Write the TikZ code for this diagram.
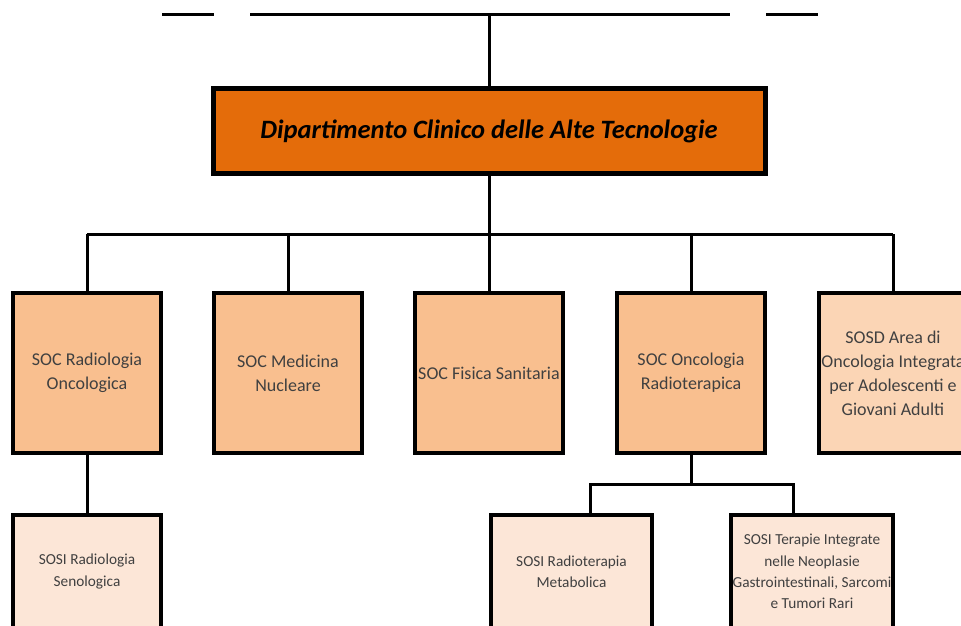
\documentclass[tikz,border=0pt]{standalone}
\usepackage{fontspec}
\setmainfont{Carlito}
\usetikzlibrary{positioning}

\definecolor{deptfill}{HTML}{E46C0A}
\definecolor{socfill}{HTML}{F9BF8F}
\definecolor{sosdfill}{HTML}{FBD5B5}
\definecolor{sosifill}{HTML}{FCE6D7}
\definecolor{boxtext}{HTML}{404040}

\tikzset{
  link/.style={line width=3pt},
  deptbox/.style={draw, line width=5pt, fill=deptfill, minimum width=552pt, minimum height=85pt,
    font=\fontsize{26.5}{30}\selectfont\bfseries\itshape},
  socbox/.style={draw, line width=3.8pt, fill=socfill, minimum width=148.5pt, minimum height=160.5pt,
    align=center, text=boxtext, font=\fontsize{18}{24}\selectfont, inner sep=1pt},
  sosdbox/.style={socbox, fill=sosdfill},
  sosibox/.style={draw, line width=3.8pt, fill=sosifill, minimum height=113.5pt,
    align=center, text=boxtext, font=\fontsize{15.3}{21.3}\selectfont, inner sep=1pt}
}

\begin{document}
\begin{tikzpicture}[x=1pt,y=-1pt]
        \useasboundingbox (0,0) rectangle (961,625);
        \clip (0,0) rectangle (961,625);

        \node[deptbox] (dept) at (489,131) {Dipartimento Clinico delle Alte Tecnologie};

        \node[socbox] (radonc) at (87,373) {SOC Radiologia\\Oncologica};
        \node[socbox] (mednuc) at (288,373) {SOC Medicina\\Nucleare};
        \node[socbox] (fisica) at (489,373) {SOC Fisica Sanitaria};
        \node[socbox] (oncrad) at (691,373) {SOC Oncologia\\Radioterapica};
        \node[sosdbox] (sosd) at (893,373) {SOSD Area di\\Oncologia Integrata\\per Adolescenti e\\Giovani Adulti};

        \node[sosibox, minimum width=148.5pt] (senol) at (87,571.5) {SOSI Radiologia\\Senologica};
        \node[sosibox, minimum width=161.5pt] (metab) at (571.5,571.5) {SOSI Radioterapia\\Metabolica};
        \node[sosibox, minimum width=162.5pt] (gastro) at (812,571.5) {SOSI Terapie Integrate\\nelle Neoplasie\\Gastrointestinali, Sarcomi\\e Tumori Rari};

        % top line
        \coordinate (topL) at (250,14);
        \coordinate (topR) at (730,14);
        \draw[link] (162,14) -- (214,14);
        \draw[link] (topL) -- (topR);
        \draw[link] (766,14) -- (818,14);
        \draw[link] (dept.north) -- (dept.north |- topL);

        % bus to the SOC
        \coordinate (bus) at (489,234);
        \draw[link] (dept.south) -- (bus);
        \draw[link] (radonc.north |- bus) -- (sosd.north |- bus);
        \foreach \n in {radonc,mednuc,fisica,oncrad,sosd}
            \draw[link] (\n.north) -- (\n.north |- bus);

        % SOSI
        \draw[link] (radonc.south) -- (senol.north);
        \coordinate (split) at (691,484);
        \draw[link] (oncrad.south) -- (split);
        \draw[link] ([xshift=18.5pt]metab.north) |- (split) -| ([xshift=-19pt]gastro.north);
\end{tikzpicture}
\end{document}
